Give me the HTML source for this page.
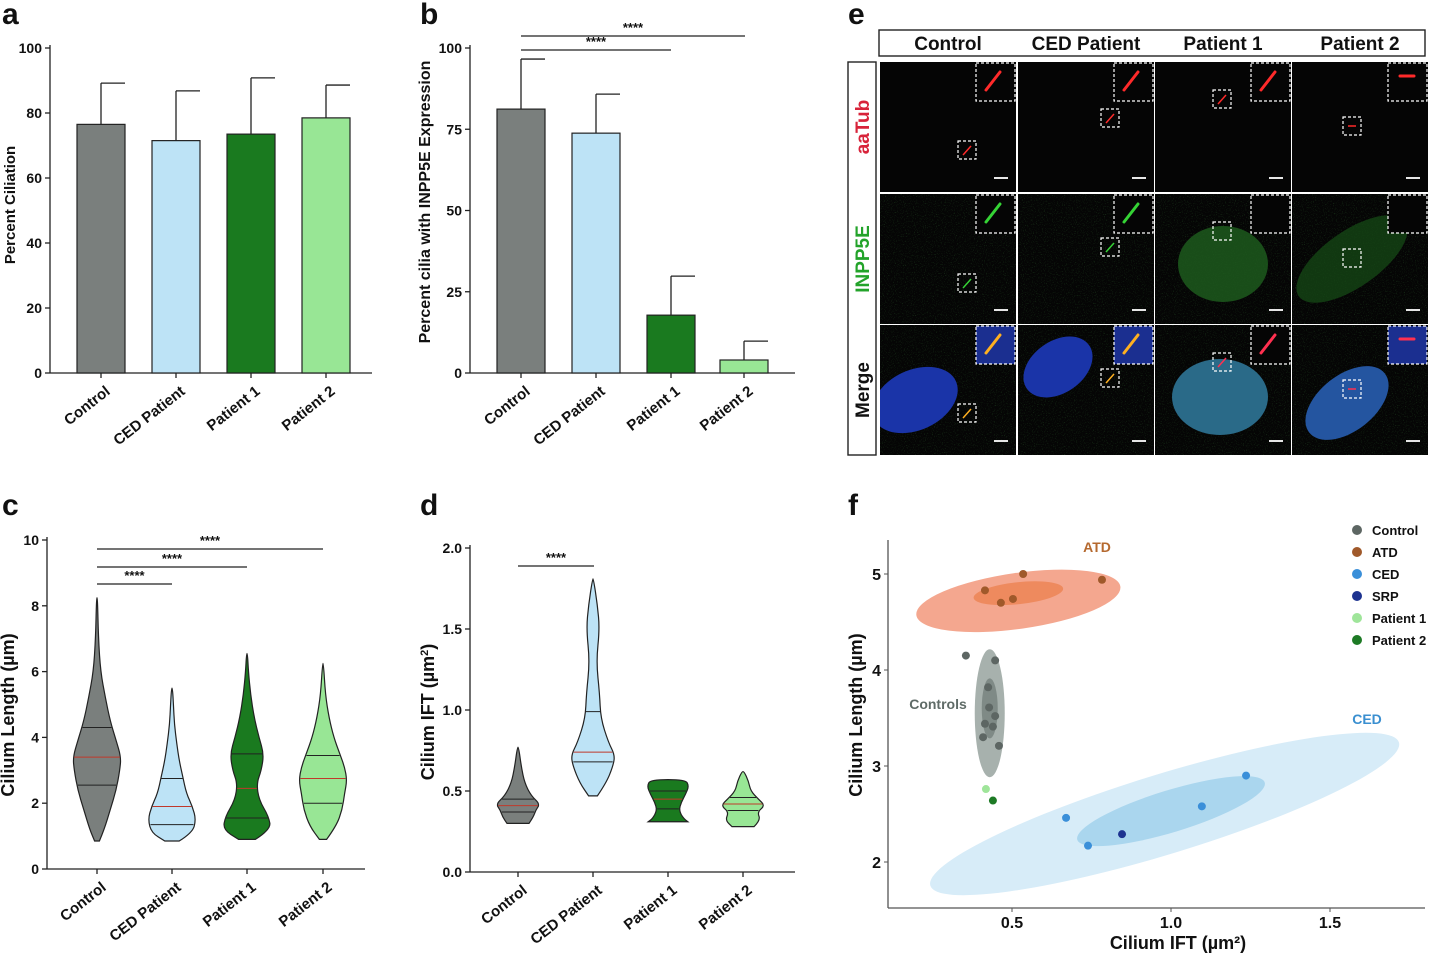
<!DOCTYPE html>
<html><head><meta charset="utf-8"><style>
html,body{margin:0;padding:0;background:#fff;}
svg{display:block;font-family:"Liberation Sans",Arial,sans-serif;font-weight:bold;}
</style></head><body>
<svg id="fig" width="1429" height="954" viewBox="0 0 1429 954">
<defs>
<filter id="noise"><feTurbulence type="fractalNoise" baseFrequency="0.9" numOctaves="1" seed="3"/><feColorMatrix values="0 0 0 0 0.1  0 0 0 0 0.55  0 0 0 0 0.1  0 0 0 1.6 -0.9"/></filter>
</defs>
<g id="root"></g>
</svg>
<script>
const NS='http://www.w3.org/2000/svg';
const root=document.getElementById('root');
function mk(tag,attrs,parent,text){const e=document.createElementNS(NS,tag);for(const k in attrs)e.setAttribute(k,attrs[k]);if(text!==undefined)e.textContent=text;(parent||root).appendChild(e);return e;}

// ---------- DATA ----------
const groups=['Control','CED Patient','Patient 1','Patient 2'];
const barColors=['#7a7f7d','#bde3f6','#1a7a1f','#98e695'];
const ciliationMean=[76.5,71.5,73.5,78.5];
const ciliationErr=[89.2,86.8,90.8,88.6];
const inppMean=[81.2,73.8,17.8,4.0];
const inppErr=[96.6,85.8,29.8,9.8];
const ticksA=[0,20,40,60,80,100];
const ticksB=[0,25,50,75,100];
const ticksC=[0,2,4,6,8,10];
const ticksD=[0.0,0.5,1.0,1.5,2.0];
const lenVals=[[0.85,1.2,1.8,2.4,3.0,3.4,3.9,4.5,5.2,6.0,7.0,8.25],[0.85,1.1,1.5,1.9,2.3,2.8,3.3,3.8,4.4,5.0,5.5],[0.9,1.2,1.6,2.1,2.6,3.0,3.5,4.0,4.6,5.3,6.0,6.55],[0.9,1.3,1.8,2.3,2.7,3.1,3.5,4.0,4.6,5.3,6.25]];
const lenWid=[[0.1,0.3,0.55,0.8,0.95,1.0,0.8,0.55,0.35,0.15,0.06,0.02],[0.3,0.85,1.0,0.85,0.6,0.45,0.3,0.2,0.1,0.06,0.02],[0.35,1.0,0.9,0.5,0.4,0.6,0.7,0.5,0.3,0.15,0.06,0.02],[0.15,0.55,0.8,0.9,1.0,0.9,0.7,0.45,0.25,0.1,0.02]];
const lenQ=[[2.55,3.4,4.3],[1.35,1.9,2.75],[1.55,2.45,3.5],[2.0,2.75,3.45]];
const iftVals=[[0.3,0.34,0.38,0.42,0.47,0.55,0.65,0.77],[0.47,0.55,0.65,0.72,0.8,0.95,1.1,1.3,1.5,1.65,1.81],[0.31,0.33,0.38,0.43,0.48,0.53,0.57],[0.28,0.32,0.37,0.41,0.45,0.5,0.56,0.62]];
const iftWid=[[0.5,0.7,0.8,1.0,0.6,0.3,0.15,0.03],[0.2,0.6,0.9,1.0,0.7,0.35,0.3,0.15,0.3,0.2,0.02],[0.9,0.7,0.5,0.6,0.8,0.95,0.8],[0.5,0.8,0.65,1.0,0.7,0.35,0.25,0.05]];
const iftQ=[[0.37,0.41,0.45],[0.68,0.74,0.99],[0.39,0.45,0.5],[0.38,0.42,0.46]];
const scNames=['Control','ATD','CED','SRP','Patient 1','Patient 2'];
const scColors=['#5d6663','#a0592a','#3a8fd9','#1d3390','#9fe59a','#1d7a25'];
const scX=[[0.355,0.447,0.425,0.428,0.447,0.415,0.440,0.409,0.459],[0.415,0.535,0.465,0.503,0.783],[0.670,0.739,1.097,1.236],[0.846],[0.418],[0.44]];
const scY=[[4.15,4.10,3.82,3.61,3.52,3.44,3.41,3.30,3.21],[4.83,5.0,4.70,4.74,4.94],[2.46,2.17,2.58,2.90],[2.29],[2.76],[2.64]];
const ticksFX=[0.5,1.0,1.5];
const ticksFY=[2,3,4,5];

function panelLabel(t,x,y){const e=mk('text',{x:x,y:y,'font-size':30,fill:'#111'},root,t);}
function yAxis(x,y0,y1,ticks,scale,fmt,fs){
  const ax=mk('line',{x1:x,y1:y0,x2:x,y2:y1,stroke:'#222','stroke-width':1.3});
  
  ticks.forEach(t=>{const y=scale(t);mk('line',{x1:x-5,y1:y,x2:x,y2:y,stroke:'#222','stroke-width':1.3});
    const tx=mk('text',{x:x-8,y:y+5,'text-anchor':'end','font-size':fs||14,fill:'#111'},root,fmt(t));
    });
}
function xAxis(x0,x1,y){const a=mk('line',{x1:x0,y1:y,x2:x1,y2:y,stroke:'#222','stroke-width':1.3});}
function xLabels(cx,y){groups.forEach((g,i)=>{mk('line',{x1:cx[i],y1:y,x2:cx[i],y2:y+5,stroke:'#222','stroke-width':1.3});
  const t=mk('text',{x:cx[i]+10,y:y+20,'text-anchor':'end','font-size':15,fill:'#111',transform:`rotate(-38 ${cx[i]+10} ${y+20})`},root,g);
  });}
function yTitle(t,x,cy,fs){const e=mk('text',{x:x,y:cy,'text-anchor':'middle','font-size':fs,fill:'#111',transform:`rotate(-90 ${x} ${cy})`},root,t);return e;}
function sig(x1,x2,y){const l=mk('line',{x1:x1,y1:y,x2:x2,y2:y,stroke:'#222','stroke-width':1.2});
  const t=mk('text',{x:(x1+x2)/2,y:y-4,'text-anchor':'middle','font-size':13,fill:'#111'},root,'****');}

// panel a
panelLabel('a',2,24);
const syA=v=>373-v*3.25;
yAxis(50,45,373,ticksA,syA,v=>String(v),14);
xAxis(50,372,373);
const cxA=[101,176,251,326];
ciliationMean.forEach((v,i)=>{
  mk('line',{x1:cxA[i],y1:syA(v),x2:cxA[i],y2:syA(ciliationErr[i]),stroke:'#222','stroke-width':1.3});
  mk('line',{x1:cxA[i],y1:syA(ciliationErr[i]),x2:cxA[i]+24,y2:syA(ciliationErr[i]),stroke:'#222','stroke-width':1.3});
  const b=mk('rect',{x:cxA[i]-24,y:syA(v),width:48,height:373-syA(v),fill:barColors[i],stroke:'#222','stroke-width':1.2});
  
});
xLabels(cxA,373);
yTitle('Percent Ciliation',15,205,15);

// panel b
panelLabel('b',420,24);
const syB=v=>373-v*3.25;
yAxis(470,45,373,ticksB,syB,v=>String(v),14);
xAxis(470,795,373);
const cxB=[521,596,671,744];
inppMean.forEach((v,i)=>{
  mk('line',{x1:cxB[i],y1:syB(v),x2:cxB[i],y2:syB(inppErr[i]),stroke:'#222','stroke-width':1.3});
  mk('line',{x1:cxB[i],y1:syB(inppErr[i]),x2:cxB[i]+24,y2:syB(inppErr[i]),stroke:'#222','stroke-width':1.3});
  const b=mk('rect',{x:cxB[i]-24,y:syB(v),width:48,height:373-syB(v),fill:barColors[i],stroke:'#222','stroke-width':1.2});
  
});
xLabels(cxB,373);
yTitle('Percent cilia with INPP5E Expression',430,202,16);
sig(521,671,50);sig(521,745,36);

function violin(cx,vals,wid,q,sy,maxw,color,name){
  let L=[],R=[];
  vals.forEach((v,k)=>{const y=sy(v),w=wid[k]*maxw;R.push([cx+w,y]);L.push([cx-w,y]);});
  const pts=R.concat(L.reverse());
  let d='M'+pts[0][0]+','+pts[0][1];
  for(let k=1;k<pts.length-1;k++){const mx=(pts[k][0]+pts[k+1][0])/2,my=(pts[k][1]+pts[k+1][1])/2;d+=` Q${pts[k][0]},${pts[k][1]} ${mx},${my}`;}
  d+=` L${pts[pts.length-1][0]},${pts[pts.length-1][1]} Z`;
  const p=mk('path',{d:d,fill:color,stroke:'#222','stroke-width':1.2});
  
  function widthAt(v){for(let k=0;k<vals.length-1;k++){if(v>=vals[k]&&v<=vals[k+1]){const t=(v-vals[k])/(vals[k+1]-vals[k]);return (wid[k]+(wid[k+1]-wid[k])*t)*maxw;}}return 0;}
  q.forEach((v,k)=>{const w=widthAt(v)*0.95;const l=mk('line',{x1:cx-w,y1:sy(v),x2:cx+w,y2:sy(v),stroke:k==1?'#c0392b':'#222','stroke-width':1});
    });
}

// panel c
panelLabel('c',2,515);
const syC=v=>869-v*32.9;
yAxis(47,537,869,ticksC,syC,v=>String(v),14);
xAxis(47,365,869);
const cxC=[97,172,247,323];
groups.forEach((g,i)=>violin(cxC[i],lenVals[i],lenWid[i],lenQ[i],syC,24,barColors[i],g.toLowerCase().replace(/ /g,'-')));
xLabels(cxC,869);
yTitle('Cilium Length (µm)',14,715,18);
sig(97,172,584);sig(97,247,567);sig(97,323,549);

// panel d
panelLabel('d',420,515);
const syD=v=>872-v*162;
yAxis(470,545,872,ticksD,syD,v=>v.toFixed(1),14);
xAxis(470,795,872);
const cxD=[518,593,668,743];
groups.forEach((g,i)=>violin(cxD[i],iftVals[i],iftWid[i],iftQ[i],syD,22,barColors[i],g.toLowerCase().replace(/ /g,'-')));
xLabels(cxD,872);
const dt=yTitle('',434,712,18);dt.innerHTML='Cilium  IFT (µm<tspan baseline-shift="super" font-size="11">2</tspan>)';
sig(518,594,566);

// panel e
panelLabel('e',848,24);
const hb=mk('rect',{x:879,y:30,width:546,height:26,fill:'#fff',stroke:'#222','stroke-width':1.4});
const colX=[880,1018,1155,1292],colW=136;
groups.forEach((g,i)=>{const t=mk('text',{x:colX[i]+colW/2,y:50,'text-anchor':'middle','font-size':19,fill:'#111'},root,g);});
const lb=mk('rect',{x:848,y:62,width:28,height:393,fill:'#fff',stroke:'#222','stroke-width':1.4});
const rowY=[62,194,325],rowH=130;
const rowNames=[['aaTub','#d8233a'],['INPP5E','#23a32a'],['Merge','#111']];
rowNames.forEach((r,j)=>{const cy=rowY[j]+rowH/2;const t=mk('text',{x:869,y:cy,'text-anchor':'middle','font-size':19,fill:r[1],transform:`rotate(-90 869 ${cy})`},root,r[0]);});
const boxRel=[[78,79],[83,47],[58,28],[51,55]];
const boxRel2=[[78,80],[83,44],[58,28],[51,55]];
const boxRel3=[[78,79],[83,44],[58,28],[51,55]];
for(let j=0;j<3;j++)for(let i=0;i<4;i++){
  const x=colX[i],y=rowY[j];
  const g=mk('g',{});
  const cp=mk('clipPath',{id:'cp'+j+i},g);mk('rect',{x:x,y:y,width:colW,height:rowH},cp);
  const gi=mk('g',{'clip-path':`url(#cp${j}${i})`},g);
  mk('rect',{x:x,y:y,width:colW,height:rowH,fill:'#050505'},gi);
  if(j>=1) mk('rect',{x:x,y:y,width:colW,height:rowH,fill:'#000',filter:'url(#noise)',opacity:0.55},gi);
  if(j==1&&i==2) mk('ellipse',{cx:x+68,cy:y+70,rx:45,ry:38,fill:'#1d5a1d',opacity:0.85},gi);
  if(j==1&&i==3) mk('ellipse',{cx:x+60,cy:y+65,rx:65,ry:28,fill:'#164a16',opacity:0.75,transform:`rotate(-35 ${x+60} ${y+65})`},gi);
  if(j==2){
    const nuc=[[35,75,45,30,-25,'#1a34a8'],[40,42,38,26,-35,'#1a34a8'],[65,72,48,38,0,'#2a6a88'],[55,78,48,28,-38,'#2455a0']][i];
    mk('ellipse',{cx:x+nuc[0],cy:y+nuc[1],rx:nuc[2],ry:nuc[3],fill:nuc[5],transform:`rotate(${nuc[4]} ${x+nuc[0]} ${y+nuc[1]})`},gi);
  }
  const br=[boxRel,boxRel2,boxRel3][j][i];
  mk('rect',{x:x+br[0],y:y+br[1],width:18,height:18,fill:'none',stroke:'#fff','stroke-width':1.2,'stroke-dasharray':'3,2'},gi);
  mk('rect',{x:x+colW-40,y:y+1,width:39,height:38,fill:j==2&&i!=2?'#1b2f90':'#050505',stroke:'#fff','stroke-width':1.2,'stroke-dasharray':'3,2'},gi);
  const show=!(j==1&&i>=2);
  const cc=j==0?'#ff2a2a':j==1?'#35d335':(i<2?'#ffb020':'#ff3050');
  if(show){
    if(i==3){mk('line',{x1:x+colW-28,y1:y+14,x2:x+colW-14,y2:y+14,stroke:cc,'stroke-width':3,'stroke-linecap':'round'},gi);
      mk('line',{x1:x+br[0]+5,y1:y+br[1]+9,x2:x+br[0]+13,y2:y+br[1]+9,stroke:cc,'stroke-width':1.5},gi);}
    else{mk('line',{x1:x+colW-30,y1:y+28,x2:x+colW-16,y2:y+10,stroke:cc,'stroke-width':3,'stroke-linecap':'round'},gi);
      mk('line',{x1:x+br[0]+5,y1:y+br[1]+14,x2:x+br[0]+13,y2:y+br[1]+5,stroke:cc,'stroke-width':1.5},gi);}
  }
  mk('line',{x1:x+colW-22,y1:y+rowH-14,x2:x+colW-8,y2:y+rowH-14,stroke:'#fff','stroke-width':1.8},gi);
}

// panel f
panelLabel('f',848,515);
const sxF=v=>1012+(v-0.5)*318;
const syF=v=>574-(v-5)*96;
const ellF=[['#f4a78f',0.52,4.72,103,28,-8],['#ee8a5e',0.52,4.8,45,11,-6],['#a7b1ad',0.43,3.55,15,64,0],['#7f8a86',0.43,3.6,8,30,0],['#d7ecf8',0.98,2.5,245,40,-17],['#aad6ee',1.0,2.53,98,21,-17]];
ellF.forEach(e=>{const cx=sxF(e[1]),cy=syF(e[2]);const el=mk('ellipse',{cx:cx,cy:cy,rx:e[3],ry:e[4],fill:e[0],transform:`rotate(${e[5]} ${cx} ${cy})`});});
const fa1=mk('line',{x1:888,y1:540,x2:888,y2:908,stroke:'#555','stroke-width':1.3});
const fa2=mk('line',{x1:888,y1:908,x2:1425,y2:908,stroke:'#555','stroke-width':1.3});
ticksFY.forEach(t=>{mk('line',{x1:884,y1:syF(t),x2:888,y2:syF(t),stroke:'#555'});const e=mk('text',{x:881,y:syF(t)+6,'text-anchor':'end','font-size':16,fill:'#111'},root,String(t));});
ticksFX.forEach(t=>{mk('line',{x1:sxF(t),y1:908,x2:sxF(t),y2:912,stroke:'#555'});const e=mk('text',{x:sxF(t),y:928,'text-anchor':'middle','font-size':16,fill:'#111'},root,t.toFixed(1));});
scX.forEach((xs,s)=>xs.forEach((v,k)=>{const c=mk('circle',{cx:sxF(v),cy:syF(scY[s][k]),r:4,fill:scColors[s]});}));
[['ATD',1097,552,'#b5692f'],['Controls',938,709,'#5f6b67'],['CED',1367,724,'#3a8fd0']].forEach(a=>{const t=mk('text',{x:a[1],y:a[2],'text-anchor':'middle','font-size':14,fill:a[3]},root,a[0]);});
yTitle('Cilium Length (µm)',862,715,18);
const fxt=mk('text',{x:1178,y:949,'text-anchor':'middle','font-size':18,fill:'#111'},root,'Cilium IFT (µm²)');
scNames.forEach((n,i)=>{const y=530+i*22;const g=mk('g',{});
  mk('circle',{cx:1357,cy:y,r:5,fill:scColors[i]},g);mk('text',{x:1372,y:y+5,'font-size':13,fill:'#111'},g,n);});
</script>
</body></html>
